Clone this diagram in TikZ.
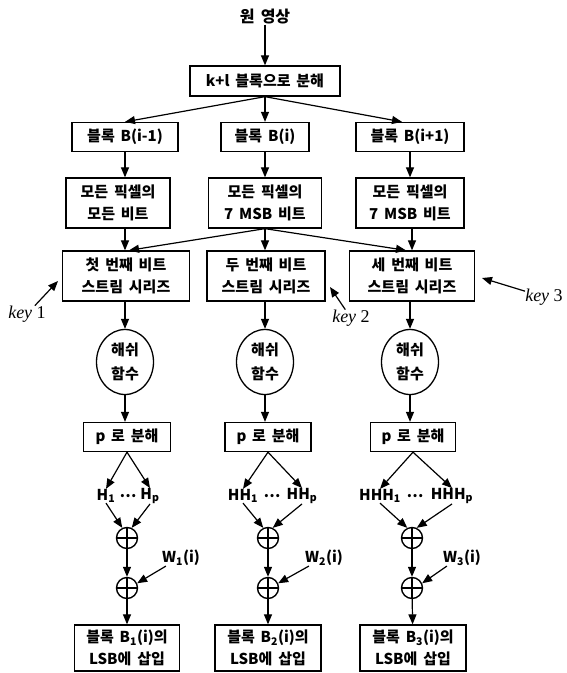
\documentclass[tikz,border=0pt]{standalone}
\usepackage{fontspec}
\usetikzlibrary{arrows.meta,shapes.geometric,calc}
\newfontfamily\kr{Noto Sans CJK KR}[WordSpace=1.7]
\newfontfamily\keyfont{Liberation Serif}
\tikzset{
  box/.style={draw, line width=1.3pt, align=center, inner sep=0pt,
    font=\kr\bfseries\fontsize{15}{22}\selectfont},
  lbl/.style={inner sep=0pt, font=\kr\bfseries\fontsize{15}{17}\selectfont},
  hashnode/.style={draw, ellipse, line width=1.3pt, minimum width=57pt, minimum height=65pt,
    align=center, inner sep=0pt, font=\kr\bfseries\fontsize{15}{24}\selectfont},
  xornode/.style={draw, circle, line width=1.4pt, minimum size=21pt, inner sep=0pt,
    path picture={\draw[line width=1.4pt] (path picture bounding box.north) -- (path picture bounding box.south)
      (path picture bounding box.west) -- (path picture bounding box.east);}},
  keylbl/.style={inner sep=0pt, font=\keyfont\fontsize{18}{20}\selectfont},
  arr/.style={line width=1.2pt, -{Triangle[length=10pt,width=8pt]}}
}
\begin{document}
\begin{tikzpicture}[x=1pt,y=1pt]
\useasboundingbox (0,0) rectangle (567,-673);
% top
\node[lbl, font=\kr\bfseries\fontsize{16}{18}\selectfont] (title) at (265,-17) {원 영상};
\node[box, minimum width=150pt, minimum height=30pt] (split) at (265,-81) {k+l 블록으로 분해};
% row 2
\node[box, minimum width=106pt, minimum height=29pt] (b1) at (125,-137) {블록 B(i-1)};
\node[box, minimum width=88pt, minimum height=29pt] (b2) at (265,-137) {블록 B(i)};
\node[box, minimum width=108pt, minimum height=29pt] (b3) at (410,-137) {블록 B(i+1)};
% row 3
\node[box, minimum width=104pt, minimum height=50pt] (m1) at (118,-203) {모든 픽셀의\\모든 비트};
\node[box, minimum width=113pt, minimum height=50pt] (m2) at (265,-203) {모든 픽셀의\\7 MSB 비트};
\node[box, minimum width=108pt, minimum height=50pt] (m3) at (410,-203) {모든 픽셀의\\7 MSB 비트};
% row 4
\node[box, minimum width=127pt, minimum height=50pt] (s1) at (126,-276) {첫 번째 비트\\스트림 시리즈};
\node[box, minimum width=118pt, minimum height=50pt] (s2) at (266,-276) {두 번째 비트\\스트림 시리즈};
\node[box, minimum width=125pt, minimum height=50pt] (s3) at (412,-276) {세 번째 비트\\스트림 시리즈};
% keys
\node[keylbl] (key1) at (27,-314) {\itshape key\/ \upshape 1};
\node[keylbl] (key2) at (351,-318) {\itshape key\/ \upshape 2};
\node[keylbl] (key3) at (544,-297) {\itshape key\/ \upshape 3};
\coordinate (k1t) at (58,-281);
\coordinate (k2t) at (330,-287);
\coordinate (k3t) at (482,-278);
% hash
\node[hashnode] (h1) at (125,-362) {해쉬\\함수};
\node[hashnode] (h2) at (265,-362) {해쉬\\함수};
\node[hashnode] (h3) at (410,-362) {해쉬\\함수};
% p boxes
\node[box, minimum width=87pt, minimum height=29pt] (p1) at (127,-437) {p 로 분해};
\node[box, minimum width=86pt, minimum height=29pt] (p2) at (268,-437) {p 로 분해};
\node[box, minimum width=85pt, minimum height=29pt] (p3) at (413,-437) {p 로 분해};
% H labels
\node[lbl] (H1a) at (106,-496) {H\textsubscript{1}};
\node[lbl] (H1d) at (128,-496) {⋯};
\node[lbl] (H1b) at (150,-496) {H\textsubscript{p}};
\node[lbl] (H2a) at (243,-496) {HH\textsubscript{1}};
\node[lbl] (H2d) at (272,-496) {⋯};
\node[lbl] (H2b) at (302,-496) {HH\textsubscript{p}};
\node[lbl] (H3a) at (380,-496) {HHH\textsubscript{1}};
\node[lbl] (H3d) at (415,-496) {⋯};
\node[lbl] (H3b) at (452,-496) {HHH\textsubscript{p}};
% xor
\node[xornode] (o1a) at (127,-538) {};
\node[xornode] (o1b) at (127,-588) {};
\node[xornode] (o2a) at (268,-538) {};
\node[xornode] (o2b) at (268,-588) {};
\node[xornode] (o3a) at (412,-538) {};
\node[xornode] (o3b) at (412,-588) {};
% W labels
\node[lbl] (w1) at (181,-558) {W\textsubscript{1}(i)};
\node[lbl] (w2) at (324,-558) {W\textsubscript{2}(i)};
\node[lbl] (w3) at (462,-558) {W\textsubscript{3}(i)};
% bottom
\node[box, minimum width=105pt, minimum height=46pt] (f1) at (127,-648) {블록 B\textsubscript{1}(i)의\\LSB에 삽입};
\node[box, minimum width=106pt, minimum height=46pt] (f2) at (268,-648) {블록 B\textsubscript{2}(i)의\\LSB에 삽입};
\node[box, minimum width=106pt, minimum height=46pt] (f3) at (413,-648) {블록 B\textsubscript{3}(i)의\\LSB에 삽입};
% connectors
\draw[arr] (title) -- (split);
\draw[arr] (split.south) -- (b1.north);
\draw[arr] (split.south) -- (b2.north);
\draw[arr] (split.south) -- ($(b3.north)+(-8,0)$);
\draw[arr] (b1.south) -- (b1.south |- m1.north);
\draw[arr] (b2.south) -- (m2.north);
\draw[arr] (b3.south) -- (m3.north);
\draw[arr] (m1.south -| b1) -- (s1.north -| b1);
\draw[arr] (m2.south) -- (s2.north -| m2);
\draw[arr] (m3.south -| s3) -- (s3.north);
\draw[arr] (m2.south) -- ($(s1.north)+(3,0)$);
\draw[arr] (m2.south) -- ($(s3.north)+(-6,0)$);
\draw[arr] (key1) -- (k1t);
\draw[arr] (key2) -- (k2t);
\draw[arr] (key3) -- (k3t);
\draw[arr] (s1.south -| h1) -- (h1);
\draw[arr] (s2.south -| h2) -- (h2);
\draw[arr] (s3.south -| h3) -- (h3);
\draw[arr] (h1) -- (h1 |- p1.north);
\draw[arr] (h2) -- (h2 |- p2.north);
\draw[arr] (h3) -- (h3 |- p3.north);
\foreach \i in {1,2,3}{
  \draw[arr] (p\i.south) -- (H\i a.north);
  \draw[arr] (p\i.south) -- (H\i b.north);
  \draw[arr] (H\i a.south) -- (o\i a.115);
  \draw[arr] (H\i b.south) -- (o\i a.65);
  \draw[arr] (o\i a) -- (o\i b);
  \draw[arr] ($(w\i.south west)+(4,0)$) -- (o\i b.25);
  \draw[arr] (o\i b) -- (f\i);
}
\end{tikzpicture}
\end{document}
